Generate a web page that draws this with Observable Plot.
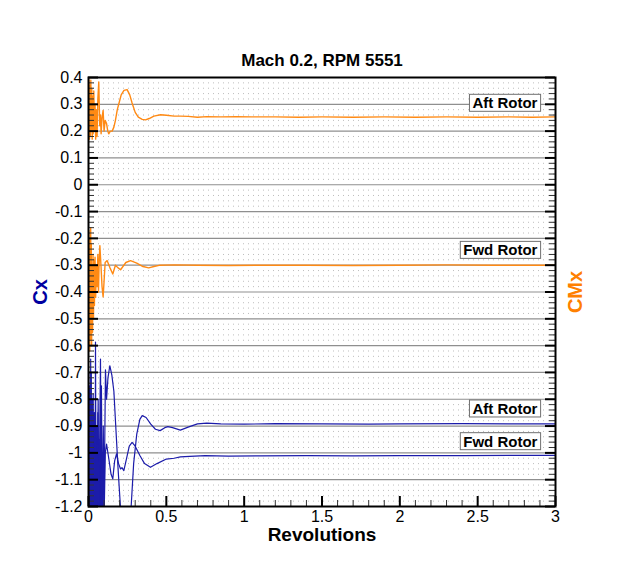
<!DOCTYPE html>
<html>
<head>
<meta charset="utf-8">
<script src="https://cdn.jsdelivr.net/npm/d3@7"></script>
<script src="https://cdn.jsdelivr.net/npm/@observablehq/plot@0.6"></script>
<style>
  html, body { margin: 0; padding: 0; background: white; }
  svg { display: block; }
</style>
</head>
<body>
<script>
// ---------- chart text ----------
const titleText = "Mach 0.2, RPM 5551";
const xLabel = "Revolutions";
const yLeftLabel = "Cx";
const yRightLabel = "CMx";

// ---------- tick labels ----------
const xMajor = [0, 0.5, 1, 1.5, 2, 2.5, 3];
const yMajor = [-1.2, -1.1, -1, -0.9, -0.8, -0.7, -0.6, -0.5, -0.4, -0.3, -0.2, -0.1, 0, 0.1, 0.2, 0.3, 0.4];

// ---------- annotations ----------
const annotText = ["Aft Rotor", "Fwd Rotor", "Aft Rotor", "Fwd Rotor"];
const annotX = [2.884, 2.884, 2.884, 2.884];
const annotY = [0.303, -0.2455, -0.837, -0.959];

// ---------- series: [revolutions, value] ----------
const cmxAft = [
  [0,0.25],[0.003,0.39],[0.006,0.17],[0.009,0.37],[0.012,0.18],[0.015,0.39],[0.018,0.2],
  [0.021,0.36],[0.024,0.17],[0.027,0.33],[0.03,0.19],[0.034,0.35],[0.038,0.2],[0.042,0.3],
  [0.046,0.17],[0.05,0.28],[0.055,0.18],[0.06,0.32],[0.066,0.383],[0.072,0.22],[0.077,0.26],
  [0.081,0.19],[0.087,0.25],[0.094,0.277],[0.1,0.2],[0.107,0.24],[0.116,0.228],[0.124,0.2],
  [0.13,0.19],[0.14,0.2],[0.152,0.2],[0.163,0.215],[0.173,0.24],[0.185,0.28],[0.195,0.302],
  [0.21,0.335],[0.228,0.352],[0.248,0.355],[0.265,0.335],[0.28,0.305],[0.3,0.27],[0.32,0.252],
  [0.345,0.244],[0.366,0.242],[0.39,0.247],[0.42,0.256],[0.463,0.261],[0.5,0.259],[0.55,0.256],
  [0.59,0.256],[0.64,0.255],[0.7,0.252],[0.76,0.254],[0.85,0.253],[0.95,0.254],[1.05,0.253],
  [1.2,0.253],[1.35,0.252],[1.5,0.253],[1.7,0.252],[1.9,0.253],[2.1,0.252],[2.3,0.253],
  [2.5,0.252],[2.7,0.253],[2.85,0.252],[3.0,0.253]
];
const cmxFwd = [
  [0,-0.3],[0.002,-0.17],[0.004,-0.55],[0.006,-0.2],[0.008,-0.62],[0.01,-0.25],[0.012,-0.58],
  [0.014,-0.16],[0.016,-0.5],[0.018,-0.22],[0.02,-0.6],[0.023,-0.3],[0.026,-0.55],[0.029,-0.26],
  [0.032,-0.5],[0.035,-0.28],[0.038,-0.45],[0.042,-0.27],[0.046,-0.42],[0.05,-0.3],[0.055,-0.38],
  [0.06,-0.26],[0.064,-0.4],[0.068,-0.3],[0.073,-0.227],[0.08,-0.3],[0.087,-0.38],[0.094,-0.418],
  [0.1,-0.36],[0.107,-0.29],[0.12,-0.283],[0.138,-0.31],[0.156,-0.333],[0.173,-0.3],
  [0.19,-0.31],[0.206,-0.317],[0.24,-0.29],[0.27,-0.283],[0.31,-0.292],[0.35,-0.305],
  [0.387,-0.31],[0.42,-0.305],[0.46,-0.3],[0.55,-0.299],[0.7,-0.3],[0.9,-0.301],[1.1,-0.3],
  [1.4,-0.3],[1.7,-0.301],[2.0,-0.3],[2.3,-0.299],[2.6,-0.3],[3.0,-0.3]
];
const cxAft = [
  [0,-0.95],[0.003,-1.3],[0.006,-0.75],[0.009,-1.35],[0.012,-0.82],[0.015,-1.3],[0.018,-0.7],
  [0.021,-1.4],[0.024,-0.9],[0.027,-1.32],[0.03,-0.78],[0.034,-1.3],[0.038,-0.85],[0.042,-1.25],
  [0.045,-0.587],[0.049,-1.3],[0.053,-0.9],[0.057,-1.22],[0.062,-0.8],[0.067,-1.3],[0.072,-0.95],
  [0.077,-1.25],[0.083,-0.75],[0.089,-1.3],[0.095,-0.9],[0.1,-1.22],[0.109,-0.69],[0.116,-0.8],
  [0.125,-0.72],[0.137,-0.675],[0.15,-0.71],[0.163,-0.77],[0.175,-0.9],[0.19,-1.06],
  [0.205,-1.2],[0.23,-1.35],[0.255,-1.3],[0.274,-1.2],[0.29,-1.04],[0.31,-0.93],[0.33,-0.875],
  [0.345,-0.861],[0.37,-0.868],[0.4,-0.893],[0.43,-0.912],[0.46,-0.917],[0.49,-0.906],
  [0.51,-0.902],[0.54,-0.906],[0.59,-0.915],[0.64,-0.904],[0.7,-0.892],[0.76,-0.889],
  [0.85,-0.892],[1.0,-0.893],[1.2,-0.891],[1.5,-0.892],[1.8,-0.893],[2.0,-0.892],
  [2.4,-0.891],[2.7,-0.892],[3.0,-0.892]
];
const cxFwd = [
  [0,-1.1],[0.002,-0.7],[0.005,-1.35],[0.008,-0.85],[0.011,-1.3],[0.014,-0.65],[0.017,-1.38],
  [0.02,-0.95],[0.023,-1.3],[0.026,-0.8],[0.03,-1.35],[0.034,-1.0],[0.038,-1.3],[0.042,-0.88],
  [0.046,-1.28],[0.05,-0.95],[0.055,-1.3],[0.06,-0.85],[0.065,-1.25],[0.071,-1.0],[0.077,-0.65],
  [0.083,-1.3],[0.09,-1.0],[0.095,-1.25],[0.1,-1.25],[0.108,-1.0],[0.116,-0.967],[0.13,-1.02],
  [0.145,-1.08],[0.156,-1.097],[0.168,-1.03],[0.18,-1.004],[0.193,-1.04],[0.206,-1.06],
  [0.215,-1.055],[0.227,-1.066],[0.245,-1.02],[0.262,-0.975],[0.28,-0.961],[0.3,-0.975],
  [0.33,-1.01],[0.36,-1.04],[0.398,-1.054],[0.44,-1.04],[0.5,-1.023],[0.55,-1.02],[0.59,-1.015],
  [0.65,-1.013],[0.75,-1.01],[0.9,-1.012],[1.1,-1.011],[1.4,-1.01],[1.7,-1.011],[2.0,-1.01],
  [2.4,-1.01],[2.8,-1.009],[3.0,-1.009]
];

// ---------- derived tick sets ----------
const isMult = (v, k) => Math.abs(Math.round(v * k) - v * k) < 1e-6;
const xMinor = d3.range(0, 3.0001, 0.1).filter(v => !isMult(v, 2));
const yMinor = d3.range(-1.2, 0.4001, 0.02).filter(v => !isMult(v, 10));
const yGrid = yMajor.filter(v => v > -1.2 + 1e-9 && v < 0.4 - 1e-9);
const fmt = d => String(+d.toFixed(2));

const ORANGE = "#ff8a14";
const BLUE = "#1c1caa";
const PW = 467, PH = 429;

const chart = Plot.plot({
  width: 621,
  height: 561,
  marginLeft: 88,
  marginRight: 66,
  marginTop: 77,
  marginBottom: 55,
  x: {domain: [0, 3]},
  y: {domain: [-1.2, 0.4]},
  style: {fontFamily: "'Liberation Sans', Arial, Helvetica, sans-serif", background: "white", color: "black"},
  marks: [
    Plot.ruleY(yMinor, {y: d => d, stroke: "#bdbdbd", strokeWidth: 1, strokeDasharray: "1,4"}),
    Plot.ruleY(yGrid, {y: d => d, stroke: "#8f8f8f", strokeWidth: 1.2}),
    Plot.line(cmxAft, {x: d => d[0], y: d => d[1], stroke: ORANGE, strokeWidth: 1.4, clip: true}),
    Plot.line(cmxFwd, {x: d => d[0], y: d => d[1], stroke: ORANGE, strokeWidth: 1.4, clip: true}),
    Plot.line(cxAft, {x: d => d[0], y: d => d[1], stroke: BLUE, strokeWidth: 1.2, clip: true}),
    Plot.line(cxFwd, {x: d => d[0], y: d => d[1], stroke: BLUE, strokeWidth: 1.2, clip: true}),
    // inward ticks
    Plot.tickY(yMinor, {y: d => d, insetRight: PW - 6, stroke: "#333", strokeWidth: 1}),
    Plot.tickY(yMinor, {y: d => d, insetLeft: PW - 6, stroke: "#333", strokeWidth: 1}),
    Plot.tickY(yMajor, {y: d => d, insetRight: PW - 10, stroke: "black", strokeWidth: 2}),
    Plot.tickY(yMajor, {y: d => d, insetLeft: PW - 10, stroke: "black", strokeWidth: 2}),
    Plot.tickX(xMinor, {x: d => d, insetTop: PH - 6, stroke: "#333", strokeWidth: 1}),
    Plot.tickX(xMajor, {x: d => d, insetTop: PH - 10, stroke: "black", strokeWidth: 2}),
    Plot.frame({stroke: "black", strokeWidth: 2}),
    Plot.axisY({ticks: yMajor, tickSize: 0, tickPadding: 6, fontSize: 16, tickFormat: fmt, label: null}),
    Plot.axisX({ticks: xMajor, tickSize: 0, tickPadding: 4, fontSize: 16, tickFormat: fmt, label: null}),
    Plot.text([titleText], {text: d => d, frameAnchor: "top", lineAnchor: "middle", dy: -17, fontSize: 17, fontWeight: "bold"}),
    Plot.text([xLabel], {text: d => d, frameAnchor: "bottom", lineAnchor: "middle", dy: 28, fontSize: 19, fontWeight: "bold"}),
    Plot.text([yLeftLabel], {text: d => d, frameAnchor: "left", textAnchor: "middle", lineAnchor: "middle", dx: -48, rotate: -90, fontSize: 20, fontWeight: "bold", fill: "#0000a0"}),
    Plot.text([yRightLabel], {text: d => d, frameAnchor: "right", textAnchor: "middle", lineAnchor: "middle", dx: 20, rotate: -90, fontSize: 20, fontWeight: "bold", fill: "#ff8000"}),
    Plot.text(annotText, {x: (d, i) => annotX[i], y: (d, i) => annotY[i], text: d => d, textAnchor: "end", fontSize: 15, fontWeight: "bold", fill: "black"})
  ]
});
document.body.append(chart);

// boxes behind the rotor annotations
d3.select(chart).selectAll("text").each(function () {
  const t = this.textContent;
  if (t === "Aft Rotor" || t === "Fwd Rotor") {
    const b = this.getBBox();
    const r = document.createElementNS("http://www.w3.org/2000/svg", "rect");
    r.setAttribute("x", b.x - 3);
    r.setAttribute("y", b.y);
    r.setAttribute("width", b.width + 6);
    r.setAttribute("height", b.height);
    r.setAttribute("fill", "white");
    r.setAttribute("stroke", "#707070");
    r.setAttribute("stroke-width", 1);
    const tr = this.getAttribute("transform");
    if (tr) r.setAttribute("transform", tr);
    this.parentNode.insertBefore(r, this);
  }
});
</script>
</body>
</html>
